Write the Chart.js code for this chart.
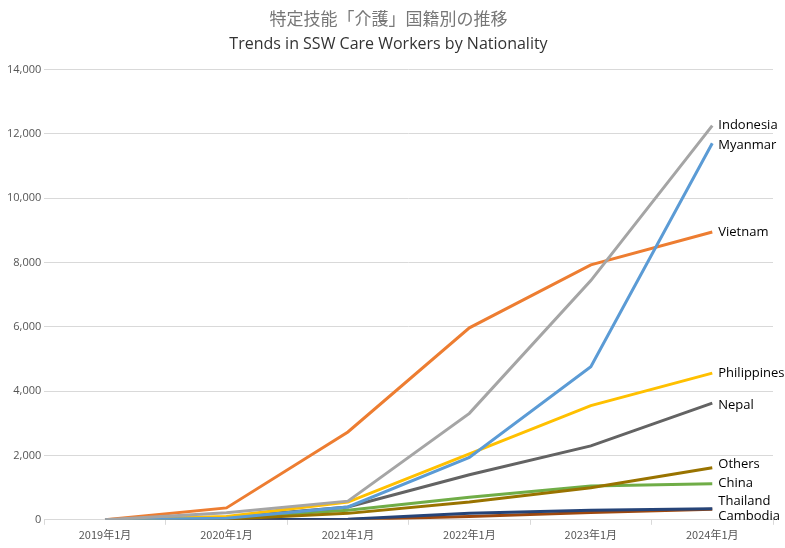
<!DOCTYPE html>
<html><head><meta charset="utf-8">
<script src="https://cdn.jsdelivr.net/npm/chart.js@4"></script>
<style>html,body{margin:0;background:#fff}#w{width:785px;height:548px}</style>
</head><body><div id="w"><canvas id="c"></canvas></div>
<script>
const categories=['2019年1月','2020年1月','2021年1月','2022年1月','2023年1月','2024年1月'];
const indonesia=[0,220,580,3310,7440,12260];
const myanmar=[0,50,400,1940,4760,11710];
const vietnam=[0,370,2730,5970,7930,8950];
const philippines=[0,100,550,2050,3550,4560];
const nepal=[0,80,400,1400,2300,3630];
const others=[0,20,200,550,1000,1620];
const china=[0,60,300,700,1050,1120];
const thailand=[0,0,20,200,300,340];
const cambodia=[0,0,10,100,230,330];
const series=[
 ['Indonesia',indonesia,'#A5A5A5',0],
 ['Myanmar',myanmar,'#5B9BD5',2],
 ['Vietnam',vietnam,'#ED7D31',0],
 ['Philippines',philippines,'#FFC000',0],
 ['Nepal',nepal,'#636363',2],
 ['Others',others,'#997300',-3],
 ['China',china,'#70AD47',0],
 ['Thailand',thailand,'#264478',-8],
 ['Cambodia',cambodia,'#9E480E',7]];
const endLabels={id:'endLabels',afterDatasetsDraw(ch){const c=ch.ctx;c.save();c.font='13px "Open Sans", sans-serif';c.fillStyle='#000';c.textBaseline='middle';
 ch.data.datasets.forEach((d,i)=>{const p=ch.getDatasetMeta(i).data[d.data.length-1];c.fillText(d.label,p.x+6,p.y+d.nudge);});c.restore();}};
new Chart(document.getElementById('c'),{type:'line',
 data:{labels:categories,datasets:series.map(s=>({label:s[0],data:s[1],borderColor:s[2],backgroundColor:s[2],borderWidth:3,pointRadius:0,tension:0,nudge:s[3]}))},
 options:{responsive:true,maintainAspectRatio:false,animation:false,
  layout:{padding:{left:4,right:12,top:6,bottom:4}},
  plugins:{legend:{display:false},tooltip:{enabled:false},
   title:{display:true,text:['特定技能「介護」国籍別の推移'],color:'#777',font:{size:17,family:'"Noto Sans CJK JP"',weight:'normal'},padding:{top:2,bottom:0}},
   subtitle:{display:true,text:'Trends in SSW Care Workers by Nationality',color:'#333',font:{size:16,family:'"Open Sans"'},padding:{top:6,bottom:16}}},
  scales:{x:{offset:true,grid:{display:true,drawOnChartArea:false,offset:true,tickLength:5,color:'#d9d9d9'},border:{color:'#d9d9d9'},ticks:{color:'#555',font:{size:11,family:'"Noto Sans CJK JP"'}}},
   y:{min:0,max:14000,ticks:{stepSize:2000,color:'#555',font:{size:11,family:'"Open Sans"'}},grid:{color:'#d9d9d9',drawTicks:false},border:{display:false}}}},
 plugins:[endLabels]});
</script></body></html>
